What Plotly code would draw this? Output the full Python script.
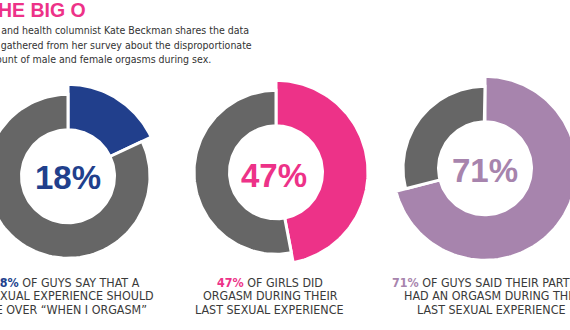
import numpy as np
import plotly.graph_objects as go

# --- data -------------------------------------------------------------
percents = [18, 47, 71]
slice_colors = ["#213f8c", "#ed3288", "#a784ad"]
rest_color = "#666666"
caption_lines = [
    ["OF GUYS SAY THAT A", "SEXUAL EXPERIENCE SHOULD", "BE OVER \u201cWHEN I ORGASM\u201d"],
    ["OF GIRLS DID", "ORGASM DURING THEIR", "LAST SEXUAL EXPERIENCE"],
    ["OF GUYS SAID THEIR PARTNER", "HAD AN ORGASM DURING THEIR", "LAST SEXUAL EXPERIENCE"],
]
title_text = "THE BIG O"
intro_lines = [
    "Sex and health columnist Kate Beckman shares the data",
    "she gathered from her survey about the disproportionate",
    "amount of male and female orgasms during sex.",
]

# --- layout constants (pixels; the axes map 1 unit to 1 pixel) -------
W, H = 570, 330
centers = [(68, 176.3), (276, 172.3), (485, 168.3)]
number_pos = [(68, 177), (273.5, 175.5), (485, 170.5)]
inner_r = 48
rest_r = 80.5
slice_r = 90.5
gap = 3  # white seam between slices
pad = 2  # annotation border + padding between box edge and text

# caption anchoring per donut: (x of text edge, xanchor) for each line
caption_anchor = [
    [(140, "right"), (153.5, "right"), (147, "right")],
    [(269.5, "center"), (270, "center"), (269.5, "center")],
    [(392, "left"), (403.5, "left"), (417, "left")],
]
caption_y = [282.3, 295.6, 309]

NARROW = "DejaVu Sans Condensed, Liberation Sans Narrow, sans-serif"
BOLD = "Liberation Sans, Arial, sans-serif"


def ring_sector(cx, cy, r0, r1, a0, a1, n=120):
    """Closed outline of an annulus sector; angles in degrees clockwise from 12 o'clock."""
    t = np.radians(np.linspace(a0, a1, n))
    xo, yo = cx + r1 * np.sin(t), cy - r1 * np.cos(t)
    xi, yi = cx + r0 * np.sin(t[::-1]), cy - r0 * np.cos(t[::-1])
    x = np.concatenate([xo, xi, xo[:1]])
    y = np.concatenate([yo, yi, yo[:1]])
    return x, y


def edge_shift(anchor):
    return {"left": -pad, "right": pad, "center": 0}[anchor]


fig = go.Figure()
annotations = []

for i, (p, col) in enumerate(zip(percents, slice_colors)):
    cx, cy = centers[i]
    end = p / 100 * 360
    parts = [
        (0, end, slice_r, col),
        (end, 360, rest_r, rest_color),
    ]
    for a0, a1, r_out, c in parts:
        x, y = ring_sector(cx, cy, inner_r - gap / 2, r_out + gap / 2, a0, a1)
        fig.add_trace(go.Scatter(
            x=x, y=y, mode="lines", fill="toself", fillcolor=c,
            line=dict(color="white", width=gap),
            hoverinfo="skip", showlegend=False,
        ))
    # big percentage in the hole
    nx, ny = number_pos[i]
    annotations.append(dict(
        x=nx, y=ny, xref="x", yref="y",
        text=f"<b>{p}%</b>", showarrow=False, xanchor="center", yanchor="middle",
        font=dict(family=BOLD, size=33, color=col),
    ))
    # three-line caption
    for j, line in enumerate(caption_lines[i]):
        txt = f"<b><span style='color:{col}'>{p}%</span></b> {line}" if j == 0 else line
        ax_, anchor = caption_anchor[i][j]
        annotations.append(dict(
            x=(ax_ + edge_shift(anchor)) / W, y=1 - caption_y[j] / H,
            xref="paper", yref="paper",
            text=txt, showarrow=False, xanchor=anchor, yanchor="middle",
            font=dict(family=NARROW, size=12.4, color="#3a3a3a"),
        ))

annotations.append(dict(
    x=(86 + pad) / W, y=1 - 9.7 / H, xref="paper", yref="paper", text=f"<b>{title_text}</b>",
    showarrow=False, xanchor="right", yanchor="middle",
    font=dict(family=BOLD, size=19.5, color="#ed3288"),
))
# intro paragraph: its left margin sits just past the left edge
for j, line in enumerate(intro_lines):
    annotations.append(dict(
        x=(-19.5 - pad) / W, y=1 - (30.5 + 14.2 * j) / H, xref="paper", yref="paper",
        text=line, showarrow=False, xanchor="left", yanchor="middle",
        font=dict(family=NARROW, size=10.5, color="#333333"),
    ))

fig.update_layout(
    width=W, height=H,
    margin=dict(l=0, r=0, t=0, b=0),
    paper_bgcolor="white", plot_bgcolor="white",
    xaxis=dict(range=[0, W], visible=False, fixedrange=True),
    yaxis=dict(range=[H, 0], visible=False, fixedrange=True),
    annotations=annotations,
)

fig.write_html("out.html")
